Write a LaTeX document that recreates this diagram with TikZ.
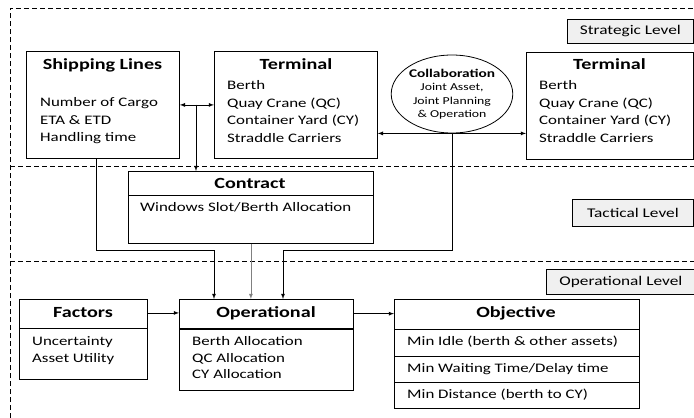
\documentclass[tikz,border=0pt]{standalone}
\usepackage{fontspec}
\setmainfont{Carlito}[FakeStretch=1.3]
\usetikzlibrary{arrows,shapes.geometric}

\begin{document}
\begin{tikzpicture}[x=1pt,y=-1pt,>=latex]
    \tikzset{box/.style = {draw, line width=0.8pt, inner sep=0, anchor=north west}}
    \tikzset{level/.style = {box, fill=gray!12, font=\fontsize{13.3}{16}\selectfont}}
    \tikzset{title/.style = {font=\bfseries\fontsize{15.5}{18}\selectfont, anchor=mid}}
    \tikzset{items/.style = {font=\fontsize{13}{17.5}\selectfont, align=left, inner sep=0, anchor=north west}}
    \tikzset{frame/.style = {dash pattern=on 5pt off 3pt, line width=0.8pt}}
    \tikzset{link/.style = {draw, line width=0.8pt, ->}}

    \useasboundingbox (0,0) rectangle (694,418);

    % levels
    \draw[frame] (10,418) -- (10,8) -- (694,8);
    \draw[frame] (10,166) -- (694,166);
    \draw[frame] (10,261) -- (694,261);
    \node[level, minimum width=126, minimum height=24] (strat) at (567,19) {Strategic Level};
    \node[level, minimum width=121, minimum height=27] (tact) at (572,199) {Tactical Level};
    \node[level, minimum width=149, minimum height=25] (oplev) at (546,269) {Operational Level};

    % boxes
    \node[box, minimum width=153, minimum height=107] (ship) at (26,51) {};
    \node[box, minimum width=163, minimum height=107] (term1) at (214,51) {};
    \node[box, minimum width=167, minimum height=107] (term2) at (526,52) {};
    \node[draw, ellipse, line width=0.8pt, minimum width=117, minimum height=78, inner sep=0,
          align=center, font=\fontsize{10.6}{13.5}\selectfont] (collab) at (452,94)
          {{\bfseries\fontsize{11.8}{13}\selectfont Collaboration}\\Joint Asset,\\Joint Planning\\\& Operation};
    \node[box, minimum width=245, minimum height=72] (contract) at (128,171) {};
    \node[box, minimum width=128, minimum height=80] (factors) at (19,299) {};
    \node[box, minimum width=174, minimum height=91] (oper) at (179,299) {};
    \node[box, minimum width=245, minimum height=109] (objective) at (394,299) {};

    % dividers
    \draw[line width=0.8pt] (contract.west |- 0,195) -- (contract.east |- 0,195);
    \draw[line width=0.8pt] (factors.west |- 0,328) -- (factors.east |- 0,328);
    \draw[line width=1.6pt] (oper.west |- 0,329) -- (oper.east |- 0,329);
    \draw[line width=0.8pt] (objective.west |- 0,329) -- (objective.east |- 0,329);
    \draw[line width=0.8pt] (objective.west |- 0,356) -- (objective.east |- 0,356);
    \draw[line width=0.8pt] (objective.west |- 0,382) -- (objective.east |- 0,382);

    % texts
    \node[title] (shiptitle) at (102.5,67.5) {Shipping Lines};
    \node[items] (shipitems) at (40,97.5) {Number of Cargo\\ETA \& ETD\\Handling time};
    \node[title] (term1title) at (296,67.5) {Terminal};
    \node[items] (term1items) at (227,80.5) {Berth\\Quay Crane (QC)\\Container Yard (CY)\\Straddle Carriers};
    \node[title] (term2title) at (609.5,67.5) {Terminal};
    \node[items] (term2items) at (539,80.5) {Berth\\Quay Crane (QC)\\Container Yard (CY)\\Straddle Carriers};
    \node[title] (contitle) at (250,186) {Contract};
    \node[items] (conitems) at (140,202) {Windows Slot/Berth Allocation};
    \node[title] (ftitle) at (83,315.5) {Factors};
    \node[items, font=\fontsize{13}{17}\selectfont] (fitems) at (32,336.5) {Uncertainty\\Asset Utility};
    \node[title] (otitle) at (266,315.5) {Operational};
    \node[items, font=\fontsize{13}{16.5}\selectfont] (oitems) at (192,336.5) {Berth Allocation\\QC Allocation\\CY Allocation};
    \node[title] (objtitle) at (516,315) {Objective};
    \node[items, font=\fontsize{13}{26.5}\selectfont] (objitems) at (407,336)
          {Min Idle (berth \& other assets)\\Min Waiting Time/Delay time\\Min Distance (berth to CY)};

    % edges
    \coordinate (j1) at (196,104.5);
    \coordinate (b1) at (96,250);
    \coordinate (b2) at (214,250);
    \coordinate (b3) at (283,250);
    \draw[link, <->] (ship.east) -- (term1.west);
    \draw[link] (j1) -- (j1 |- contract.north);
    \draw[link, <->] (term1.east |- collab.south) -- (term2.west |- collab.south);
    \draw[link] (ship.south -| b1) |- (b2) -- (b2 |- oper.north);
    \draw[link, gray] (contract.south) -- (contract.south |- oper.north);
    \draw[link] (collab.south) |- (b3) -- (b3 |- oper.north);
    \draw[link] (ftitle -| factors.east) -- (ftitle -| oper.west);
    \draw[link] (otitle -| oper.east) -- (otitle -| objective.west);
\end{tikzpicture}
\end{document}
